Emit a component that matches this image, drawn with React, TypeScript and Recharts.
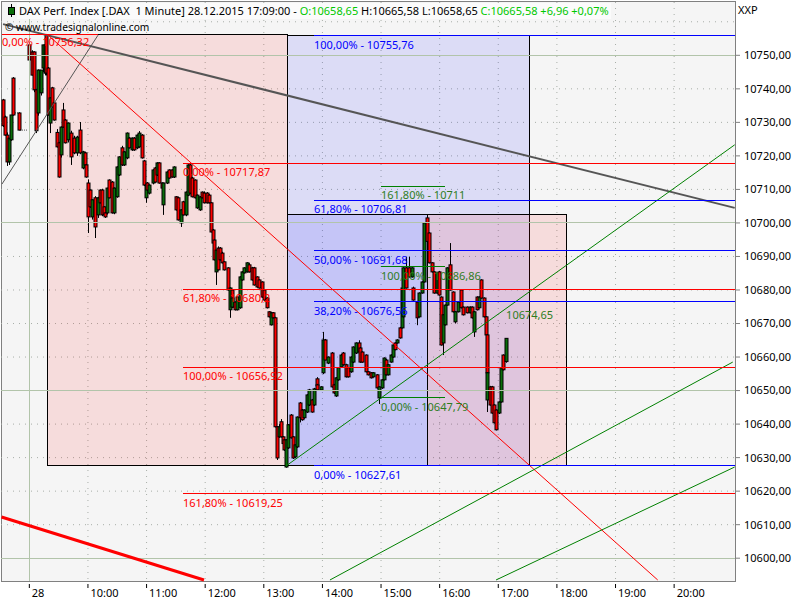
import React from 'react';
import {
  Bar,
  CartesianGrid,
  ComposedChart,
  ReferenceArea,
  ReferenceDot,
  ReferenceLine,
  XAxis,
  YAxis,
} from 'recharts';

const FONT = '"Noto Sans", Tahoma, sans-serif';

// every row: minute after 09:00, open, high, low, close
const preOpenBars = [
  [-27, 10736.7, 10737, 10728.6, 10729], [-25, 10731.6, 10732, 10726, 10726.2], [-23, 10726.2, 10727, 10717, 10718.2],
  [-21, 10718.2, 10725.3, 10717.3, 10725.3], [-19, 10724.8, 10732.2, 10724.5, 10732.2], [-17, 10743.2, 10743.5, 10732, 10732.2],
  [-15, 10732.8, 10732.9, 10732.7, 10732.8], [-13, 10732.8, 10732.9, 10732.7, 10732.8], [-11, 10732.8, 10733, 10727.6, 10727.7],
  [-9, 10727.7, 10727.8, 10727.6, 10727.7], [-7, 10727.7, 10727.8, 10727.6, 10727.7], [-5, 10727.7, 10727.8, 10727.6, 10727.7],
  [-3, 10727.7, 10727.8, 10727.6, 10727.7],
];
const openingBars = [
  [0, 10753.1, 10753.5, 10748, 10748.6], [3, 10751, 10751.5, 10744, 10744.1], [5, 10751, 10751.2, 10739, 10739.7],
  [7, 10739.7, 10740, 10726.8, 10727.5], [9, 10732.8, 10745.8, 10732, 10745.6], [12, 10738.8, 10745.6, 10738, 10745.6],
  [14, 10746.2, 10753.1, 10745, 10753.1], [16, 10744.7, 10753.5, 10744, 10753.1], [17, 10756, 10756.3, 10744, 10744.7],
  [19, 10746.2, 10746.5, 10732, 10732.2], [21, 10729.8, 10737.5, 10726.8, 10737.3], [23, 10740.3, 10740.6, 10734.5, 10734.6],
  [25, 10735.8, 10736, 10730.5, 10730.7], [28, 10727, 10728, 10722.5, 10722.7], [30, 10723.9, 10724.2, 10713.5, 10713.7],
  [32, 10720.3, 10728.8, 10719.5, 10728.6], [34, 10733.7, 10735.8, 10728.4, 10728.6], [37, 10730.7, 10731, 10723.7, 10723.9],
  [40, 10724.8, 10730, 10724, 10729.8], [43, 10726.8, 10727.5, 10717.3, 10719.7], [46, 10725.3, 10726, 10720.5, 10720.9],
  [49, 10720.9, 10726, 10720, 10725.6], [52, 10727.7, 10730.1, 10720.5, 10720.9], [55, 10716.4, 10721.5, 10716, 10721.2],
  [57, 10720.9, 10721.2, 10717, 10717.3], [58, 10717.3, 10717.6, 10713.5, 10713.7],
];
const morningBars = [
  [60, 10711.9, 10713, 10697, 10701.8], [62, 10709.8, 10710, 10704.5, 10704.8], [64, 10701.8, 10707, 10701, 10706.9],
  [67, 10707.5, 10708, 10695.5, 10698.8], [70, 10702.4, 10707.8, 10701.5, 10707.5], [72, 10709.8, 10710, 10705.8, 10706],
  [74, 10709.8, 10710.2, 10702, 10702.4], [76, 10704.8, 10705, 10702, 10702.4], [78, 10703, 10703.2, 10701.5, 10701.8],
  [80, 10703, 10710.5, 10702.5, 10710.4], [82, 10712.8, 10713, 10707.3, 10707.5], [85, 10712.2, 10712.5, 10702.8, 10703],
  [87, 10703, 10710.6, 10702.6, 10710.4], [90, 10707.8, 10716.9, 10707.5, 10716.7], [92, 10714.3, 10719.9, 10714, 10719.7],
  [95, 10722.4, 10723, 10717, 10717.3], [97, 10717.3, 10721.4, 10717, 10721.2], [100, 10719.4, 10727, 10719, 10726.8],
  [102, 10725.3, 10725.6, 10722.2, 10722.4], [105, 10721.8, 10725.5, 10721.5, 10725.3], [107, 10725.3, 10725.6, 10721.5, 10721.8],
  [110, 10722.4, 10726.4, 10722, 10726.2], [112, 10722.7, 10727.4, 10722.4, 10726.8], [115, 10726.2, 10726.5, 10719.2, 10719.4],
  [117, 10718.5, 10718.8, 10711, 10711.3], [119, 10707.5, 10711.5, 10706, 10711.3], [120, 10711.9, 10712.2, 10709.5, 10709.8],
  [123, 10708.9, 10711.5, 10708.5, 10711.3], [127, 10711.9, 10716, 10711.5, 10715.8], [129, 10716.4, 10716.7, 10712, 10712.2],
  [131, 10714.3, 10718.1, 10714, 10717.9], [133, 10717.9, 10718.1, 10711.7, 10711.9], [136, 10711.9, 10712.1, 10710.2, 10710.4],
  [137, 10705.4, 10712, 10702.4, 10711.9], [141, 10711.9, 10715.4, 10711.6, 10715.2], [143, 10715.8, 10716, 10713.2, 10713.4],
  [146, 10715.8, 10716, 10713.5, 10713.7], [148, 10713.7, 10716.9, 10713.4, 10716.7], [150, 10707.8, 10708, 10703.7, 10703.9],
  [152, 10707.5, 10707.8, 10700.7, 10700.9], [155, 10700, 10704.1, 10698.8, 10703.9], [157, 10706.3, 10706.6, 10702.2, 10702.4],
  [160, 10702.4, 10709.4, 10702, 10709.2], [162, 10708.3, 10717.5, 10708, 10717.3], [165, 10717.3, 10717.9, 10708.7, 10708.9],
  [167, 10713.4, 10713.7, 10707.6, 10707.8], [170, 10712.8, 10713, 10707.3, 10707.5], [172, 10704.5, 10708.5, 10704.2, 10708.3],
  [175, 10703.9, 10708, 10703.6, 10707.8], [177, 10709.2, 10709.4, 10707.3, 10707.5], [179, 10708.9, 10709.4, 10705.8, 10706],
];
const middayBars = [
  [182, 10708.9, 10709.2, 10705.8, 10706], [184, 10708.3, 10708.6, 10705.8, 10706], [186, 10706, 10706.2, 10697.2, 10697.3],
  [188, 10697.9, 10698.2, 10693.8, 10694], [189, 10694.9, 10695.1, 10688.8, 10689], [191, 10685.4, 10692, 10681.5, 10691.9],
  [193, 10692.5, 10693, 10685.8, 10686], [195, 10692.5, 10692.8, 10688.8, 10689], [197, 10691, 10691.4, 10687.9, 10688.1],
  [199, 10688.4, 10688.6, 10685.8, 10686], [203, 10686.6, 10686.8, 10679.8, 10680], [205, 10674.1, 10680.8, 10671.7, 10680.6],
  [207, 10680, 10680.2, 10674.7, 10674.9], [208, 10674.9, 10677.8, 10674.6, 10677.6], [211, 10676.4, 10676.6, 10673.9, 10674.1],
  [213, 10674.1, 10678.1, 10673.9, 10677.9], [216, 10674.7, 10684.1, 10674.4, 10683.9], [218, 10683, 10685.6, 10682.8, 10685.4],
  [220, 10685.1, 10686.8, 10684.9, 10686.6], [223, 10685.4, 10688.3, 10685.2, 10688.1], [225, 10687.5, 10688, 10685.2, 10685.4],
  [228, 10686.6, 10686.9, 10682.8, 10683], [230, 10686.6, 10686.9, 10681.3, 10681.5], [233, 10683.9, 10684.1, 10680.7, 10680.9],
  [235, 10683, 10683.2, 10680.4, 10680.6], [238, 10682.4, 10682.6, 10677.7, 10677.9], [240, 10680, 10680.2, 10676.8, 10677],
  [243, 10677.6, 10677.8, 10674.5, 10674.7], [245, 10673.5, 10673.7, 10671.8, 10672], [247, 10669.6, 10673.4, 10669.4, 10673.2],
  [249, 10673.2, 10673.4, 10671.5, 10671.7], [252, 10671.7, 10672, 10639, 10639.2], [254, 10639.2, 10639.4, 10629.3, 10629.9],
  [256, 10636.2, 10640, 10635.9, 10639.2], [258, 10640.7, 10641.5, 10636, 10636.2], [260, 10636.2, 10636.4, 10634, 10634.2],
  [261, 10635.3, 10635.5, 10632, 10632.3], [263, 10627.2, 10635.5, 10627, 10635.3],
];
const afternoonBars = [
  [265, 10632.9, 10640, 10632.6, 10639.8], [268, 10642.7, 10643, 10635.7, 10635.9], [270, 10636.2, 10636.4, 10629.6, 10629.9],
  [272, 10630.2, 10633.9, 10629.9, 10633.8], [274, 10633.2, 10642.3, 10632.9, 10642.1], [277, 10646.3, 10646.6, 10640.5, 10641.9],
  [279, 10644.2, 10644.5, 10641, 10641.3], [281, 10641.9, 10644.4, 10641.6, 10644.2], [284, 10643.6, 10648.9, 10643.3, 10648.7],
  [286, 10645.7, 10650.5, 10645.4, 10650.2], [289, 10647.2, 10647.5, 10643.4, 10643.6], [291, 10645.7, 10650.8, 10645.4, 10650.5],
  [294, 10653.5, 10654, 10651.2, 10651.4], [295, 10651.7, 10652, 10649.9, 10650.2], [299, 10650.2, 10651.3, 10649.9, 10651.1],
  [301, 10655.3, 10667.5, 10654.9, 10665.1], [303, 10665.1, 10665.4, 10659, 10659.1], [306, 10658.2, 10660.2, 10657.9, 10660],
  [310, 10661.2, 10661.5, 10650.9, 10651.1], [312, 10651.7, 10652, 10649, 10649.3], [314, 10648.4, 10654, 10648.1, 10653.8],
  [316, 10653.2, 10657, 10652.9, 10656.8], [319, 10657.1, 10660.9, 10656.8, 10660.6], [321, 10661.2, 10661.5, 10657.4, 10657.7],
  [324, 10657.7, 10658, 10653.9, 10654.1], [326, 10656.8, 10657, 10653.9, 10654.1], [329, 10655.6, 10660.2, 10655.3, 10660],
  [331, 10658.5, 10663.2, 10658.2, 10663], [334, 10661.2, 10664.4, 10660.9, 10664.2], [337, 10664.2, 10665, 10661.3, 10661.5],
  [339, 10662.7, 10663, 10658.3, 10658.5], [341, 10661.5, 10661.7, 10658.3, 10658.5], [345, 10660.6, 10660.8, 10655.4, 10655.6],
  [347, 10655.6, 10655.8, 10654.5, 10654.7], [350, 10655.3, 10655.5, 10653.6, 10653.8], [352, 10654.1, 10655.5, 10653.9, 10655.3],
  [356, 10654.7, 10654.9, 10650.6, 10650.8], [358, 10647.8, 10651.3, 10646, 10651.1], [361, 10650.8, 10653.4, 10650.5, 10653.2],
  [363, 10653.2, 10659.9, 10653, 10659.7], [365, 10659.1, 10659.4, 10654.5, 10654.7], [367, 10654.7, 10657.9, 10654.5, 10657.7],
  [370, 10658.5, 10660.8, 10658.3, 10660.6], [372, 10660, 10663.8, 10659.8, 10663.6], [374, 10664.2, 10664.4, 10662, 10662.2],
  [376, 10664.2, 10665.3, 10664, 10665.1], [379, 10668.7, 10669, 10665.5, 10665.7],
];
const closingBars = [
  [381, 10668.7, 10680.8, 10668.5, 10680.6], [383, 10672, 10686.8, 10671.8, 10686.6], [386, 10686.6, 10689.9, 10680.4, 10680.6],
  [389, 10686.6, 10689.9, 10683.7, 10683.9], [392, 10683.9, 10686.8, 10683.7, 10686.6], [393, 10680.6, 10681, 10676.8, 10677],
  [397, 10676.4, 10676.6, 10669.5, 10671.7], [399, 10672, 10679.3, 10671.8, 10679.1], [402, 10679.1, 10682.6, 10678.9, 10682.4],
  [404, 10682.4, 10700.2, 10682.2, 10700], [407, 10701.5, 10702.4, 10694.3, 10694.5], [409, 10697, 10697.2, 10687.9, 10688.1],
  [412, 10688.1, 10688.3, 10685.2, 10685.4], [414, 10685.4, 10685.6, 10678.9, 10679.1], [417, 10679.1, 10685.3, 10678.9, 10685.1],
  [419, 10685.4, 10685.7, 10678.3, 10678.5], [421, 10677.9, 10678.1, 10663.4, 10663.6], [423, 10664.2, 10672.8, 10660.6, 10672.6],
  [426, 10669.6, 10675.7, 10669.4, 10675.5], [428, 10675.5, 10686.8, 10675.3, 10686.6], [431, 10687.5, 10694, 10679.8, 10680],
  [434, 10679.4, 10679.6, 10673.3, 10673.5], [436, 10670.5, 10673.7, 10670, 10673.5], [439, 10673.5, 10676.6, 10673.3, 10676.4],
  [442, 10680, 10680.2, 10674.5, 10674.7], [444, 10674.9, 10675.1, 10672.4, 10672.6], [448, 10674.9, 10675.1, 10673, 10673.2],
  [451, 10673.2, 10675.1, 10673, 10674.9], [453, 10674.9, 10675.1, 10671.5, 10671.7], [455, 10667.5, 10673.7, 10666, 10673.5],
  [458, 10677.9, 10678.1, 10673.9, 10674.1], [460, 10674.7, 10678.1, 10674.5, 10677.9], [462, 10683, 10683.2, 10677.4, 10677.6],
  [465, 10677.6, 10677.8, 10671.8, 10672], [467, 10672, 10672.2, 10666.4, 10666.6], [468, 10666.6, 10666.8, 10655.1, 10655.3],
  [469, 10647.2, 10655.5, 10643.6, 10655.3], [472, 10651.1, 10651.4, 10645.5, 10645.7], [474, 10651.1, 10651.4, 10643.1, 10643.3],
  [476, 10645.7, 10645.9, 10640.2, 10640.4], [478, 10644.2, 10644.4, 10638.1, 10638.3], [481, 10643.3, 10646.8, 10643, 10646.6],
  [483, 10646.6, 10657, 10646.4, 10656.8], [485, 10660.6, 10660.8, 10656, 10656.2], [488, 10658.65, 10665.58, 10658.3, 10665.58],
];

const hourMinutes = [0, 60, 120, 180, 240, 300, 360, 420, 480, 540, 600, 660];
const hourLabels = ['28', '10:00', '11:00', '12:00', '13:00', '14:00', '15:00', '16:00', '17:00', '18:00', '19:00', '20:00'];
const priceTicks = [10750, 10740, 10730, 10720, 10710, 10700, 10690, 10680, 10670, 10660, 10650, 10640, 10630, 10620, 10610, 10600];
const dottedPrices = [10760, 10740, 10730, 10720, 10710, 10690, 10680, 10670, 10660, 10640, 10630, 10620, 10610];
const solidPrices = [10750, 10700, 10650, 10600];

const MINUTE_LEFT = -29;
const MINUTE_RIGHT = 722.3;
const PRICE_BOTTOM = 10593.2;
const PRICE_TOP = 10765.9;

// fibonacci sets: levels, their labels and the minute they start from
const redLevels = [10717.87, 10680.2, 10656.92, 10619.25];
const redLabels = ['0,00% - 10717,87', '61,80% - 10680,2', '100,00% - 10656,92', '161,80% - 10619,25'];
const blueLevels = [10755.76, 10706.81, 10691.68, 10676.56, 10627.61];
const blueLabels = ['100,00% - 10755,76', '61,80% - 10706,81', '50,00% - 10691,68', '38,20% - 10676,56', '0,00% - 10627,61'];
const greenLevels = [10711, 10686.86, 10647.79];
const greenLabels = ['161,80% - 10711', '100,00% - 10686,86', '0,00% - 10647,79'];

// [minute, price, minute, price, colour, width]
const trendLines: [number, number, number, number, string, number][] = [
  [-26.9, 10759.3, 722, 10704.5, '#555555', 2],
  [-28, 10711.6, 70.3, 10756, '#555555', 1],
  [-28.5, 10612.3, 178.8, 10593.5, '#ff0000', 3],
  [18, 10756.32, 643.2, 10593.5, '#ff0000', 1],
  [262.7, 10627.5, 722, 10723.3, '#008000', 1],
  [307.7, 10593.5, 720, 10658.5, '#008000', 1],
  [477.7, 10593.5, 722, 10627.2, '#008000', 1],
];

// [minute from, minute to, price top, price bottom, colour]
const boxes: [number, number, number, number, string][] = [
  [19, 264.7, 10756.32, 10627.61, '#ff0000'],
  [264.7, 512, 10755.76, 10627.61, '#0000ff'],
  [264.7, 408, 10702.4, 10627.61, '#0000ff'],
  [408, 550.3, 10702.4, 10627.61, '#ff0000'],
];

const candles = [...preOpenBars, ...openingBars, ...morningBars, ...middayBars, ...afternoonBars, ...closingBars].map(
  ([minute, open, high, low, close]) => ({ minute, open, high, low, close }),
);

const Candle = (props: any) => {
  const { x, y, width, height, payload } = props;
  const cx = Math.round(x + width / 2) + 0.5;
  const perPoint = height / (payload.high - payload.low);
  const top = y + (payload.high - Math.max(payload.open, payload.close)) * perPoint;
  const bodyHeight = Math.abs(payload.open - payload.close) * perPoint;
  const up = payload.close >= payload.open;
  return (
    <g>
      <line x1={cx} x2={cx} y1={y} y2={y + height} stroke="#000000" />
      <rect x={cx - 1.5} y={top} width={3} height={bodyHeight} fill={up ? '#0a6e0a' : '#ff0000'} stroke="#000000" />
    </g>
  );
};

const HourTick = (props: any) => {
  const { x, y, index } = props;
  return (
    <g>
      <line x1={x} x2={x} y1={y - 5} y2={y - 1} stroke="#000000" />
      <text x={x + 2.5} y={y + 8} fontFamily={FONT} fontSize={11} fill="#000000">
        {hourLabels[index]}
      </text>
    </g>
  );
};

const labelAt = (text: string, minute: number, price: number, color: string) => (
  <ReferenceDot
    key={text}
    x={minute}
    y={price}
    r={0}
    shape={(p: any) => (
      <text x={p.cx} y={p.cy + 4} fontFamily={FONT} fontSize={11} fill={color}>
        {text}
      </text>
    )}
  />
);

const hline = (price: number, from: number, to: number, color: string) => (
  <ReferenceLine
    key={`${color}-${price}`}
    segment={[{ x: from, y: price }, { x: to, y: price }]}
    stroke={color}
    strokeWidth={1}
    shapeRendering="crispEdges"
  />
);

const green = '#00c800';

export default function App() {
  return (
    <div style={{ position: 'fixed', left: 0, top: 0, width: 800, height: 600, background: '#ffffff', overflow: 'hidden' }}>
      <div
        style={{
          position: 'absolute', left: 1, top: 1, width: 735, height: 581, boxSizing: 'border-box',
          background: '#f5f5f5', border: '1px solid #808080',
        }}
      />
      <div style={{ position: 'absolute', left: 0, top: 0 }}>
        <ComposedChart
          width={800}
          height={600}
          data={candles}
          margin={{ top: 2, right: 0, bottom: 0, left: 1 }}
          barSize={3}
        >
          <CartesianGrid
            horizontalValues={dottedPrices}
            verticalValues={hourMinutes.slice(1)}
            stroke="#a8aea8"
            strokeDasharray="1 5"
          />
          {solidPrices.map((p) => (
            <ReferenceLine key={p} y={p} stroke="#b2c4aa" strokeWidth={1} shapeRendering="crispEdges" />
          ))}
          <ReferenceLine x={0} stroke="#b2c4aa" strokeWidth={1} shapeRendering="crispEdges" />
          <XAxis
            type="number"
            dataKey="minute"
            domain={[MINUTE_LEFT, MINUTE_RIGHT]}
            allowDataOverflow
            ticks={hourMinutes}
            interval={0}
            height={19}
            axisLine={false}
            tickLine={false}
            tick={<HourTick />}
          />
          <YAxis
            orientation="right"
            type="number"
            domain={[PRICE_BOTTOM, PRICE_TOP]}
            allowDataOverflow
            ticks={priceTicks}
            interval={0}
            width={65}
            axisLine={false}
            tickSize={5}
            tickMargin={4}
            tickLine={{ stroke: '#808080' }}
            tick={{ fill: '#000000', fontSize: 11, fontFamily: FONT }}
            tickFormatter={(v: number) => `${v},00`}
          />
          <Bar
            dataKey={(d: any) => [d.low, d.high]}
            shape={<Candle />}
            isAnimationActive={false}
          />
          {boxes.map(([x1, x2, y1, y2, color]) => (
            <ReferenceArea
              key={`${x1}-${y1}`}
              x1={x1}
              x2={x2}
              y1={y1}
              y2={y2}
              fill={color}
              fillOpacity={0.1}
              stroke="#000000"
              strokeWidth={1}
              shapeRendering="crispEdges"
            />
          ))}
          {trendLines.map(([x1, y1, x2, y2, color, width]) => (
            <ReferenceLine
              key={`${x1}-${y1}`}
              segment={[{ x: x1, y: y1 }, { x: x2, y: y2 }]}
              stroke={color}
              strokeWidth={width}
            />
          ))}
          {hline(10756.32, -28, 70, '#ff0000')}
          {redLevels.map((p) => hline(p, 157.5, 722, '#ff0000'))}
          {blueLevels.map((p) => hline(p, 291.5, 722, '#0000ff'))}
          {greenLevels.map((p) => hline(p, 360, 425.4, '#008000'))}
          {labelAt('0,00% - 10756,32', -28, 10754, '#ff0000')}
          {redLabels.map((t, i) => labelAt(t, 157.3, redLevels[i] - 2.7, '#ff0000'))}
          {blueLabels.map((t, i) => labelAt(t, 291.4, blueLevels[i] - 2.7, '#0000ff'))}
          {greenLabels.map((t, i) => labelAt(t, 360, greenLevels[i] - 2.7, '#2e7d1e'))}
          {labelAt('10674,65', 488, 10672.6, '#2e7d1e')}
        </ComposedChart>
      </div>
      <div
        style={{
          position: 'absolute', left: 17, top: 3, height: 16, lineHeight: '16px', padding: '0 2px', background: '#fbfbfb',
          fontFamily: FONT, fontSize: 11, whiteSpace: 'pre', color: '#000000',
        }}
      >
        DAX Perf. Index [.DAX  1 Minute] 28.12.2015 17:09:00 - <span style={{ color: green }}>O:10658,65</span> H:10665,58 L:10658,65{' '}
        <span style={{ color: green }}>C:10665,58 +6,96 +0,07%</span>
      </div>
      <svg style={{ position: 'absolute', left: 6, top: 3 }} width={10} height={15}>
        <line x1={5.5} x2={5.5} y1={1} y2={14} stroke="#000000" />
        <rect x={2.5} y={4.5} width={6} height={7} fill="#0a6e0a" stroke="#000000" />
      </svg>
      <div
        style={{
          position: 'absolute', left: 5, top: 19, height: 16, lineHeight: '16px', fontFamily: FONT, fontSize: 10.2,
          whiteSpace: 'pre', color: '#000000',
        }}
      >
        © www.tradesignalonline.com
      </div>
      <div style={{ position: 'absolute', left: 738, top: 2, lineHeight: '16px', fontFamily: FONT, fontSize: 11, color: '#000000' }}>
        XXP
      </div>
    </div>
  );
}
